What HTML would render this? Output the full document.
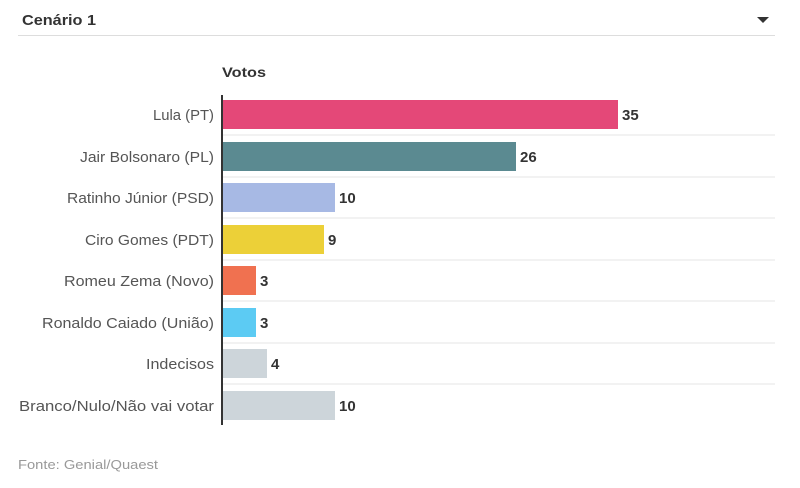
<!DOCTYPE html>
<html><head><style>
body{margin:0;background:#fff;width:800px;height:483px;overflow:hidden;font-family:"Liberation Sans",sans-serif;}
</style></head><body>
<svg width="800" height="483" xmlns="http://www.w3.org/2000/svg" font-family="Liberation Sans, sans-serif">
<text x="22" y="25" font-size="15" font-weight="bold" fill="#333" textLength="74" lengthAdjust="spacingAndGlyphs">Cenário 1</text>
<polygon points="757,17 769,17 763,23" fill="#333"/>
<line x1="18" y1="35.5" x2="775" y2="35.5" stroke="#ddd" stroke-width="1"/>
<text x="222" y="77" font-size="14" font-weight="bold" fill="#333" textLength="44" lengthAdjust="spacingAndGlyphs">Votos</text>
<g stroke="#e6e6e6" stroke-width="1">
<line x1="223" y1="135" x2="775" y2="135"/>
<line x1="223" y1="177" x2="775" y2="177"/>
<line x1="223" y1="218" x2="775" y2="218"/>
<line x1="223" y1="260" x2="775" y2="260"/>
<line x1="223" y1="301" x2="775" y2="301"/>
<line x1="223" y1="343" x2="775" y2="343"/>
<line x1="223" y1="384" x2="775" y2="384"/>
</g>
<rect x="223" y="100" width="395" height="29" fill="#e44878"/>
<rect x="223" y="142" width="293" height="29" fill="#5b8a91"/>
<rect x="223" y="183" width="112" height="29" fill="#a7b9e4"/>
<rect x="223" y="225" width="101" height="29" fill="#ecd038"/>
<rect x="223" y="266" width="33" height="29" fill="#f07150"/>
<rect x="223" y="308" width="33" height="29" fill="#5ccbf3"/>
<rect x="223" y="349" width="44" height="29" fill="#cdd5da"/>
<rect x="223" y="391" width="112" height="29" fill="#cdd5da"/>
<line x1="222" y1="95" x2="222" y2="425" stroke="#333" stroke-width="2"/>
<g font-size="15" fill="#555">
<text x="153" y="120" textLength="61" lengthAdjust="spacingAndGlyphs">Lula (PT)</text>
<text x="80" y="162" textLength="134" lengthAdjust="spacingAndGlyphs">Jair Bolsonaro (PL)</text>
<text x="67" y="203" textLength="147" lengthAdjust="spacingAndGlyphs">Ratinho Júnior (PSD)</text>
<text x="85" y="245" textLength="129" lengthAdjust="spacingAndGlyphs">Ciro Gomes (PDT)</text>
<text x="64" y="286" textLength="150" lengthAdjust="spacingAndGlyphs">Romeu Zema (Novo)</text>
<text x="42" y="328" textLength="172" lengthAdjust="spacingAndGlyphs">Ronaldo Caiado (União)</text>
<text x="146" y="369" textLength="68" lengthAdjust="spacingAndGlyphs">Indecisos</text>
<text x="19" y="411" textLength="195" lengthAdjust="spacingAndGlyphs">Branco/Nulo/Não vai votar</text>
</g>
<g font-size="15" font-weight="bold" fill="#333">
<text x="622" y="120">35</text>
<text x="520" y="162">26</text>
<text x="339" y="203">10</text>
<text x="328" y="245">9</text>
<text x="260" y="286">3</text>
<text x="260" y="328">3</text>
<text x="271" y="369">4</text>
<text x="339" y="411">10</text>
</g>
<text x="18" y="469" font-size="13" fill="#999" textLength="140" lengthAdjust="spacingAndGlyphs">Fonte: Genial/Quaest</text>
</svg>
</body></html>
